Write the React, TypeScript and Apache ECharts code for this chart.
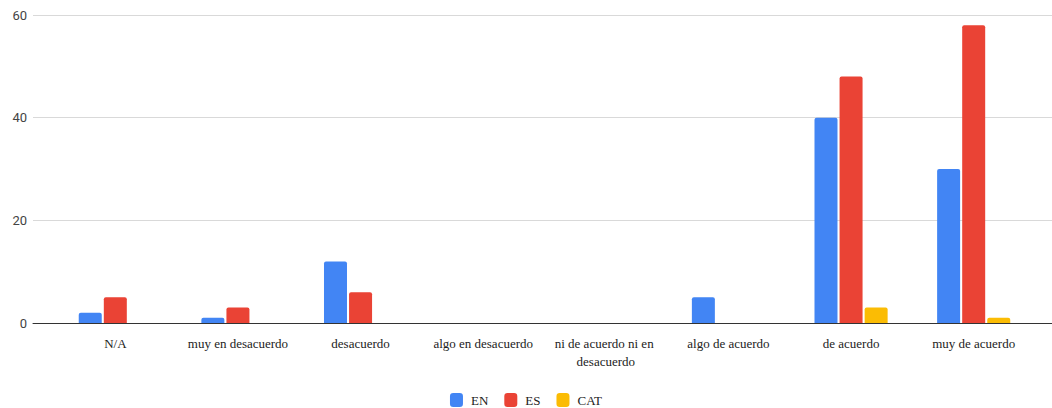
import React, { useEffect, useRef } from "react";
import * as echarts from "echarts";

const categories = [
  "N/A",
  "muy en desacuerdo",
  "desacuerdo",
  "algo en desacuerdo",
  "ni de acuerdo ni en desacuerdo",
  "algo de acuerdo",
  "de acuerdo",
  "muy de acuerdo",
];
const seriesNames = ["EN", "ES", "CAT"];
const enValues = [2, 1, 12, 0, 0, 5, 40, 30];
const esValues = [5, 3, 6, 0, 0, 0, 48, 58];
const catValues = [0, 0, 0, 0, 0, 0, 3, 1];
const colors = ["#4285F4", "#EA4335", "#FBBC04"];
const yMin = 0;
const yMax = 60;
const yInterval = 20;

export default function App() {
  const ref = useRef<HTMLDivElement>(null);
  useEffect(() => {
    if (!ref.current) return;
    const chart = echarts.init(ref.current, null, { renderer: "svg" });
    const values = [enValues, esValues, catValues];
    chart.setOption({
      animation: false,
      backgroundColor: "#ffffff",
      legend: {
        data: seriesNames,
        top: 388,
        left: "center",
        itemWidth: 13,
        itemHeight: 14,
        itemGap: 16,
        icon: "roundRect",
        textStyle: {
          fontFamily: "Liberation Serif",
          fontSize: 13,
          color: "#222",
          padding: [0, 0, 0, 3],
        },
      },
      grid: [
        { left: 54, right: 17, top: 15, bottom: 85 },
        { left: 33, right: 0, top: 15, bottom: 85 },
      ],
      xAxis: [
        {
          type: "category",
          gridIndex: 0,
          data: categories,
          axisLine: { show: false },
          axisTick: { show: false },
          axisLabel: {
            interval: 0,
            margin: 11,
            width: 112,
            overflow: "break",
            lineHeight: 18,
            fontFamily: "Liberation Serif",
            fontSize: 13,
            color: "#222",
          },
        },
        {
          type: "category",
          gridIndex: 1,
          data: [""],
          axisLine: { show: true, lineStyle: { color: "#333", width: 1 } },
          axisTick: { show: false },
          axisLabel: { show: false },
        },
      ],
      yAxis: [
        {
          type: "value",
          gridIndex: 0,
          min: yMin,
          max: yMax,
          interval: yInterval,
          show: false,
          splitLine: { show: false },
        },
        {
          type: "value",
          gridIndex: 1,
          min: yMin,
          max: yMax,
          interval: yInterval,
          axisLine: { show: false },
          axisTick: { show: false },
          axisLabel: { margin: 6, fontFamily: "Roboto", fontSize: 13, color: "#444" },
          splitLine: { lineStyle: { color: "#d9d9d9", width: 1 } },
        },
      ],
      series: seriesNames.map((name, i) => ({
        name,
        type: "bar",
        xAxisIndex: 0,
        yAxisIndex: 0,
        data: values[i],
        barWidth: 23,
        barGap: "9%",
        itemStyle: { color: colors[i], borderRadius: [2, 2, 0, 0] },
      })),
    });
    return () => chart.dispose();
  }, []);
  return (
    <div
      ref={ref}
      style={{ position: "fixed", left: 0, top: 0, width: 1052, height: 408 }}
    />
  );
}
